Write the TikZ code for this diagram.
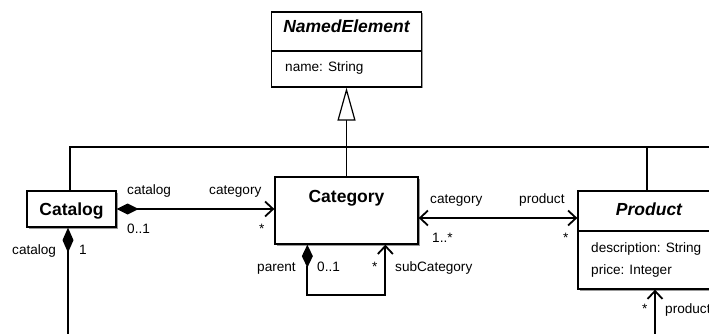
\documentclass[tikz,border=0pt]{standalone}
\usepackage{fontspec}
\setmainfont{Liberation Sans}
\usetikzlibrary{arrows.meta,shadows,calc}
\tikzset{
  comphead/.tip={Diamond[length=22pt,width=11pt]},
  openhead/.tip={Straight Barb[length=8pt,width=15pt]}
}
\begin{document}
\begin{tikzpicture}[x=1pt,y=-1pt,
  cls/.style={draw,line width=1.3pt,fill=white,inner sep=0,
    drop shadow={shadow xshift=1.5pt,shadow yshift=-1.5pt,fill=black!40,opacity=1}},
  lbl/.style={font=\fontsize{13.6}{16}\selectfont,inner sep=0,anchor=base west},
  ttl/.style={font=\fontsize{17.5}{20}\selectfont\bfseries,inner sep=0,anchor=base},
  assoc/.style={line width=1.8pt},
  gen/.style={line width=1.2pt}]
\useasboundingbox (0,0) rectangle (709,334);
\clip (0,0) rectangle (709,334);
\fill[white] (0,0) rectangle (709,334);

% classes
\node[cls,minimum width=150pt,minimum height=75pt] (ne) at (346.5,49.5) {};
\draw[line width=1.3pt] (ne.west |- 0,51) -- (ne.east |- 0,51);
\node[ttl,font=\fontsize{17.5}{20}\selectfont\bfseries\itshape] (net) at (346.5,33) {NamedElement};
\node[lbl] (nea) at (285,72) {name: String};

\node[cls,minimum width=89pt,minimum height=36pt] (cat) at (71.5,209) {};
\node[ttl] (catt) at (71.5,215) {Catalog};

\node[cls,minimum width=143pt,minimum height=67pt] (categ) at (346.5,210.5) {};
\node[ttl] (categt) at (346.5,202) {Category};

\node[cls,minimum width=146pt,minimum height=98pt] (prod) at (651,240) {};
\draw[line width=1.3pt] (prod.west |- 0,231) -- (prod.east |- 0,231);
\node[ttl,font=\fontsize{17.5}{20}\selectfont\bfseries\itshape] (prodt) at (649,215) {Product};
\node[lbl] (proda) at (591,252) {description: String};
\node[lbl] (prodb) at (591,274) {price: Integer};

% generalization
\coordinate (j) at (346.5,147);
\coordinate (jl) at (70,147);
\coordinate (jr) at (715,147);
\coordinate (pj) at (647,147);
\draw[gen,{Triangle[open,length=33pt,width=18pt,fill=white]}-] (ne.south) -- (j);
\draw[gen] (jl |- cat.north) -- (jl) -- (jr);
\draw[gen] (j) -- (categ.north);
\draw[gen] (pj) -- (pj |- prod.north);

% Catalog -> Category
\draw[assoc,{comphead}-{openhead}] (cat.east) -- (categ.west |- cat.east);
\node[lbl] (l1) at (127,194) {catalog};
\node[lbl] (l2) at (209,194) {category};
\node[lbl] (l3) at (127,233) {0..1};
\node[lbl] (l4) at (259,233) {*};

% Category <-> Product
\coordinate (cp) at (0,218);
\draw[assoc,{openhead}-{openhead}] (categ.east |- cp) -- (prod.west |- cp);
\node[lbl] (l5) at (430,203) {category};
\node[lbl] (l6) at (519,203) {product};
\node[lbl] (l7) at (432,242) {1..*};
\node[lbl] (l8) at (563,242) {*};

% self loop
\coordinate (s1) at ($(categ.south west)+(33,0)$);
\coordinate (s2) at ($(categ.south west)+(111,0)$);
\coordinate (sb) at (0,295);
\draw[assoc,{Diamond[length=23pt,width=11pt]}-{openhead}] (s1) -- (s1 |- sb) -- (s2 |- sb) -- (s2);
\node[lbl] (l9) at (257,271) {parent};
\node[lbl] (l10) at (317,271) {0..1};
\node[lbl] (l11) at (372,271) {*};
\node[lbl] (l12) at (395,271) {subCategory};

% Catalog down
\coordinate (cb1) at (68,0);
\coordinate (cb2) at (68,340);
\draw[assoc,{Diamond[length=25pt,width=11pt]}-] (cb1 |- cat.south) -- (cb2);
\node[lbl] (l13) at (12,254) {catalog};
\node[lbl] (l14) at (79,254) {1};

% Product up
\coordinate (pb1) at (655,0);
\coordinate (pb2) at (655,340);
\draw[assoc,{openhead}-] (pb1 |- prod.south) -- (pb2);
\node[lbl] (l15) at (642,313) {*};
\node[lbl] (l16) at (665,313) {product};
\end{tikzpicture}
\end{document}
